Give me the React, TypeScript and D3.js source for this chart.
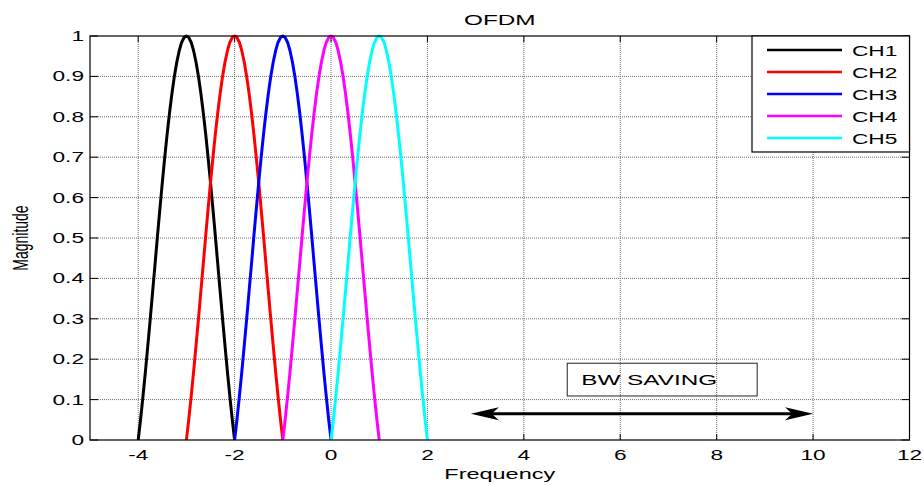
import React from "react";
import * as d3 from "d3";

const TITLE = "OFDM";
const X_LABEL = "Frequency";
const Y_LABEL = "Magnitude";
const X_TICKS = [-4, -2, 0, 2, 4, 6, 8, 10, 12];
const Y_TICKS = [0, 0.1, 0.2, 0.3, 0.4, 0.5, 0.6, 0.7, 0.8, 0.9, 1];
const Y_TICK_LABELS = ["0", "0.1", "0.2", "0.3", "0.4", "0.5", "0.6", "0.7", "0.8", "0.9", "1"];
const CHANNELS = ["CH1", "CH2", "CH3", "CH4", "CH5"];
const CENTERS = [-3, -2, -1, 0, 1];
// frequency offsets from each channel's centre and magnitude
const OFFSETS = [
  -1, -0.95, -0.9, -0.85, -0.8, -0.75, -0.7, -0.65, -0.6, -0.55, -0.5, -0.45, -0.4, -0.35,
  -0.3, -0.25, -0.2, -0.15, -0.1, -0.05, 0, 0.05, 0.1, 0.15, 0.2, 0.25, 0.3, 0.35, 0.4,
  0.45, 0.5, 0.55, 0.6, 0.65, 0.7, 0.75, 0.8, 0.85, 0.9, 0.95, 1,
];
const MAG = [
  0, 0.052, 0.109, 0.17, 0.234, 0.3, 0.368, 0.436, 0.505, 0.572, 0.637, 0.699, 0.757, 0.81,
  0.858, 0.9, 0.935, 0.963, 0.984, 0.996, 1, 0.996, 0.984, 0.963, 0.935, 0.9, 0.858, 0.81,
  0.757, 0.699, 0.637, 0.572, 0.505, 0.436, 0.368, 0.3, 0.234, 0.17, 0.109, 0.052, 0,
];
const ANNOT_TEXT = "BW SAVING";
const ARROW_X = [2.9, 10];
const ARROW_Y = 0.065;
const BOX_X = [4.9, 8.84];
const BOX_Y = [0.109, 0.19];

const COLORS = ["#000000", "#ff0000", "#0000ff", "#ff00ff", "#00ffff"];
const SX = 1.62;
const FONT = "'Liberation Sans', Arial, Helvetica, sans-serif";

function T({ x, y, size = 14, anchor = "start", rotate = 0, children, baseline }: any) {
  return (
    <text
      transform={`translate(${x},${y}) scale(${SX},1)${rotate ? ` rotate(${rotate})` : ""}`}
      fontSize={size}
      fontFamily={FONT}
      textAnchor={anchor}
      dominantBaseline={baseline}
      fill="#000"
    >
      {children}
    </text>
  );
}

export default function App() {
  const W = 924;
  const H = 485;
  const x = d3.scaleLinear().domain([-5, 12]).range([90, 909.5]);
  const y = d3.scaleLinear().domain([0, 1]).range([440, 36]);
  const [x0, x1] = x.range();
  const [yb, yt] = y.range();

  const line = d3
    .line<[number, number]>()
    .x((d) => x(d[0]))
    .y((d) => y(d[1]));

  const series = CENTERS.map((c) => OFFSETS.map((o, i) => [c + o, MAG[i]] as [number, number]));

  const ay = y(ARROW_Y);
  const axL = x(ARROW_X[0]);
  const axR = x(ARROW_X[1]);
  const hl = 28;
  const hw = 6.5;
  const notch = 7;
  const leftHead = `M${axL},${ay} L${axL + hl},${ay - hw} L${axL + hl - notch},${ay} L${axL + hl},${ay + hw} Z`;
  const rightHead = `M${axR},${ay} L${axR - hl},${ay - hw} L${axR - hl + notch},${ay} L${axR - hl},${ay + hw} Z`;

  const legX = 752;
  const legY = 36;
  const legW = x1 - legX;
  const legH = 116;

  return (
    <svg
      width={W}
      height={H}
      style={{ position: "absolute", left: 0, top: 0, background: "#fff" }}
    >
      <rect x={0} y={0} width={W} height={H} fill="#fff" />
      {/* grid */}
      <g stroke="#6e6e6e" strokeWidth={1} strokeDasharray="1,1">
        {X_TICKS.filter((t) => x(t) < x1 - 1).map((t) => (
          <line key={"gx" + t} x1={x(t)} x2={x(t)} y1={yt} y2={yb} />
        ))}
        {Y_TICKS.filter((t) => t > 0 && t < 1).map((t) => (
          <line key={"gy" + t} x1={x0} x2={x1} y1={y(t)} y2={y(t)} />
        ))}
      </g>
      {/* ticks */}
      <g stroke="#000" strokeWidth={1}>
        {X_TICKS.map((t) => (
          <g key={"tx" + t}>
            <line x1={x(t)} x2={x(t)} y1={yb} y2={yb - 6} />
            <line x1={x(t)} x2={x(t)} y1={yt} y2={yt + 6} />
          </g>
        ))}
        {Y_TICKS.map((t) => (
          <g key={"ty" + t}>
            <line x1={x0} x2={x0 + 8} y1={y(t)} y2={y(t)} />
            <line x1={x1} x2={x1 - 8} y1={y(t)} y2={y(t)} />
          </g>
        ))}
      </g>
      {/* curves */}
      {series.map((s, i) => (
        <path
          key={CHANNELS[i]}
          d={line(s) || ""}
          fill="none"
          stroke={COLORS[i]}
          strokeWidth={3}
          strokeLinejoin="round"
        />
      ))}
      {/* axes box */}
      <rect x={x0} y={yt} width={x1 - x0} height={yb - yt} fill="none" stroke="#000" strokeWidth={1.2} />
      {/* tick labels */}
      {X_TICKS.map((t) => (
        <T key={"lx" + t} x={x(t)} y={460} anchor="middle">
          {String(t)}
        </T>
      ))}
      {Y_TICKS.map((t, i) => (
        <T key={"ly" + t} x={84} y={y(t) + 5} anchor="end">
          {Y_TICK_LABELS[i]}
        </T>
      ))}
      {/* titles */}
      <T x={(x0 + x1) / 2} y={25} size={15} anchor="middle">
        {TITLE}
      </T>
      <T x={(x0 + x1) / 2} y={479} size={14.5} anchor="middle">
        {X_LABEL}
      </T>
      <T x={28} y={(yt + yb) / 2} size={14} anchor="middle" rotate={-90}>
        {Y_LABEL}
      </T>
      {/* annotation box */}
      <rect
        x={x(BOX_X[0])}
        y={y(BOX_Y[1])}
        width={x(BOX_X[1]) - x(BOX_X[0])}
        height={y(BOX_Y[0]) - y(BOX_Y[1])}
        fill="none"
        stroke="#222"
        strokeWidth={1}
      />
      <T x={x(BOX_X[0]) + 14} y={y(BOX_Y[1]) + 22} size={15}>
        {ANNOT_TEXT}
      </T>
      {/* arrow */}
      <line x1={axL + 10} x2={axR - 10} y1={ay} y2={ay} stroke="#000" strokeWidth={2.8} />
      <path d={leftHead} fill="#000" />
      <path d={rightHead} fill="#000" />
      {/* legend */}
      <rect x={legX} y={legY} width={legW} height={legH} fill="#fff" stroke="#000" strokeWidth={1.2} />
      {CHANNELS.map((c, i) => {
        const ry = legY + 14 + i * 22;
        return (
          <g key={"leg" + c}>
            <line x1={767} x2={842} y1={ry} y2={ry} stroke={COLORS[i]} strokeWidth={2.5} />
            <T x={852} y={ry + 5.5}>
              {c}
            </T>
          </g>
        );
      })}
    </svg>
  );
}
